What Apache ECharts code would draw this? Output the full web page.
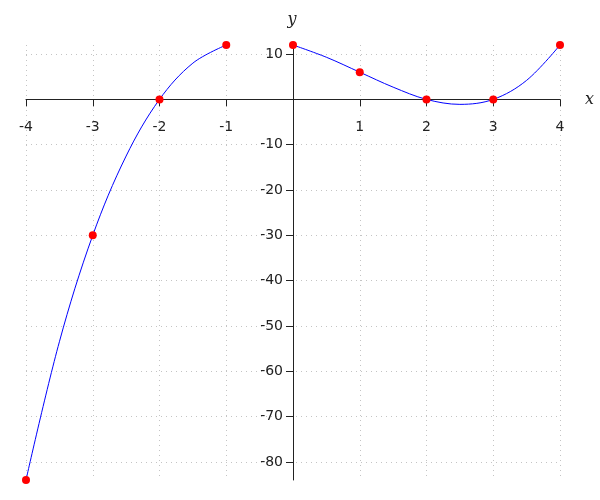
<!DOCTYPE html>
<html><head><meta charset="utf-8">
<script src="https://cdn.jsdelivr.net/npm/echarts@6/dist/echarts.min.js"></script>
<style>html,body{margin:0;padding:0;background:#fff}#c{width:600px;height:500px}</style>
</head><body><div id="c"></div>
<script>
// red sample points
const leftX = [-4, -3, -2, -1];
const leftY = [-84, -30, 0, 12];
const rightX = [0, 1, 2, 3, 4];
const rightY = [12, 6, 0, 0, 12];
// blue curve, values
const leftCurveX = [-4, -3.5, -3, -2.5, -2, -1.5, -1];
const leftCurveY = [-84, -53.5, -30, -12.5, 0, 8, 12];
const rightCurveX = [0, 0.5, 1, 1.5, 2, 2.5, 3, 3.5, 4];
const rightCurveY = [12, 9.3, 6, 2.7, 0, -1.1, 0, 4.2, 12];
// ticks
const yTicks = [-80, -70, -60, -50, -40, -30, -20, -10, 0, 10];
const xMin = -4, xMax = 4, yMin = -84, yMax = 12;

const pairs = (xs, ys) => xs.map((x, i) => [x, ys[i]]);
const W = 600, H = 500;
const gridLeft = 26, gridRight = 40, gridTop = 45, gridBottom = 20;
const gridW = W - gridLeft - gridRight, gridH = H - gridTop - gridBottom;
const xZeroOffset = -gridH * (0 - yMin) / (yMax - yMin); // lift bottom axis to y = 0
const yZeroOffset = -gridW * (0 - xMin) / (xMax - xMin); // move left axis to x = 0

const chart = echarts.init(document.getElementById('c'), null, {renderer: 'canvas'});
const labelStyle = {color: '#222', fontFamily: 'DejaVu Sans', fontSize: 14};
const gridLine = {show: true, lineStyle: {color: '#c4c4c4', type: [1, 4], width: 1}};
chart.setOption({
  animation: false,
  grid: {left: gridLeft, right: gridRight, top: gridTop, bottom: gridBottom, containLabel: false, outerBoundsMode: 'none'},
  xAxis: {
    type: 'value', min: xMin, max: xMax, interval: 1, position: 'bottom', offset: xZeroOffset,
    name: 'x', nameLocation: 'end', nameGap: 25,
    nameTextStyle: {fontFamily: 'DejaVu Serif', fontStyle: 'italic', fontSize: 16, color: '#222', verticalAlign: 'middle', padding: [10, 0, 0, 0]},
    axisLine: {onZero: false, lineStyle: {color: '#222', width: 1}},
    axisTick: {show: true, inside: false, length: 7, lineStyle: {color: '#222'}},
    axisLabel: Object.assign({margin: 21, hideOverlap: false,
      formatter: v => v === 0 ? '' : String(v)}, labelStyle),
    splitLine: gridLine
  },
  yAxis: {
    type: 'value', min: yMin, max: yMax, position: 'left', offset: yZeroOffset,
    name: 'y', nameLocation: 'end', nameGap: 17,
    nameTextStyle: {fontFamily: 'DejaVu Serif', fontStyle: 'italic', fontSize: 16, color: '#222', align: 'center', padding: [0, 2, 0, 0]},
    axisLine: {onZero: false, lineStyle: {color: '#222', width: 1}},
    axisTick: {show: true, inside: false, length: 7, lineStyle: {color: '#222'}, customValues: yTicks},
    axisLabel: Object.assign({margin: 10, hideOverlap: false, customValues: yTicks.filter(v => v !== 0),
      formatter: v => v === 0 ? '' : String(v)}, labelStyle),
    splitLine: gridLine
  },
  series: [
    {type: 'line', data: pairs(leftCurveX, leftCurveY), smooth: 0.35, showSymbol: false,
     lineStyle: {color: '#0000ff', width: 1}, z: 4},
    {type: 'line', data: pairs(rightCurveX, rightCurveY), smooth: 0.35, showSymbol: false,
     lineStyle: {color: '#0000ff', width: 1}, z: 4},
    {type: 'scatter', data: pairs(leftX, leftY).concat(pairs(rightX, rightY)), symbol: 'circle', symbolSize: 8,
     itemStyle: {color: '#ff0000', opacity: 1}, z: 5}
  ]
});
</script></body></html>
